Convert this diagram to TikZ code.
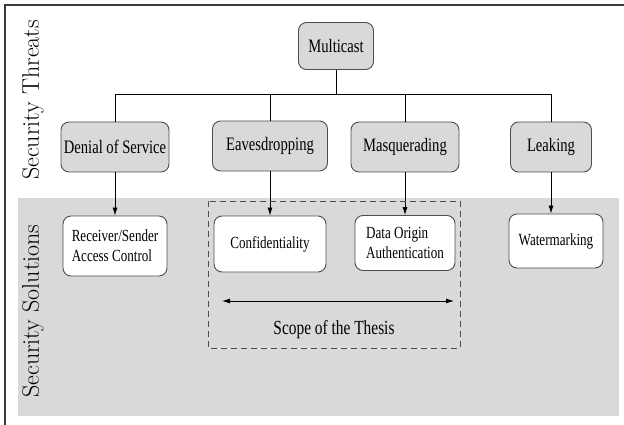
\documentclass[tikz,border=0pt]{standalone}
\usepackage{fontspec}
\newfontfamily\boxfont[FakeStretch=0.77]{Liberation Serif}
\usetikzlibrary{arrows.meta,positioning}
\definecolor{boxgrey}{HTML}{D9D9D9}
\definecolor{edge}{HTML}{4D4D4D}
\definecolor{frame}{HTML}{3A3A3A}

\begin{document}
\begin{tikzpicture}[x=1pt, y=-1pt, >={Latex[length=8pt,width=5pt]}, line width=0.8pt,
    threat/.style={draw=edge, fill=boxgrey, rounded corners=8pt, line width=0.9pt, inner sep=2pt,
                   minimum height=50pt, font=\boxfont\fontsize{19}{22}\selectfont},
    remedy/.style={draw=edge, fill=white, rounded corners=8pt, line width=0.9pt, inner sep=2pt,
                   align=left, font=\boxfont\fontsize{17}{20}\selectfont},
    sidelabel/.style={rotate=90, font=\fontsize{24}{28}\selectfont}]
    \useasboundingbox (0,0) rectangle (624,425);
    \fill[boxgrey] (18,198) rectangle (619,416);
    \draw[frame, line width=1.5pt] (5,425) -- (5,5) -- (624,5);

    \node[sidelabel] (threats) at (33,100) {Security Threats};
    \node[sidelabel] (solutions) at (33,311) {Security Solutions};

    % threats
    \node[threat, minimum width=75pt, minimum height=47pt] (multi) at (336,46) {Multicast};
    \node[threat, minimum width=108pt] (dos) at (115,147) {Denial of Service};
    \node[threat, minimum width=115pt] (eaves) at (270,146) {Eavesdropping};
    \node[threat, minimum width=108pt] (masq) at (405,147) {Masquerading};
    \node[threat, minimum width=81pt] (leak) at (551,147) {Leaking};

    % solutions
    \node[remedy, minimum width=104pt, minimum height=60pt] (access) at (115,246)
         {Receiver/Sender\\Access Control};
    \node[remedy, minimum width=112pt, minimum height=56pt] (conf) at (270,244) {Confidentiality};
    \node[remedy, minimum width=100pt, minimum height=55pt] (origin) at (405,243)
         {Data Origin\\Authentication};
    \node[remedy, minimum width=94pt, minimum height=54pt] (water) at (556,241) {Watermarking};

    \coordinate (bus) at (336,94);
    \draw (multi) -- (bus) -| (dos);
    \draw (bus) -| (eaves);
    \draw (bus) -| (masq);
    \draw (bus) -| (leak);

    \draw[->] (dos) -- (access);
    \draw[->] (eaves) -- (conf);
    \draw[->] (masq) -- (origin);
    \draw[->] (leak) -- (leak |- water.north);

    % scope
    \draw[edge, dash pattern=on 6pt off 4pt] (208,201) rectangle (460,348);
    \coordinate (scopeL) at (222,301);
    \coordinate (scopeR) at (454,301);
    \draw[<->] (scopeL) -- (scopeR);
    \node[font=\boxfont\fontsize{20}{24}\selectfont] (scope) at (334,330) {Scope of the Thesis};
  \end{tikzpicture}
\end{document}
